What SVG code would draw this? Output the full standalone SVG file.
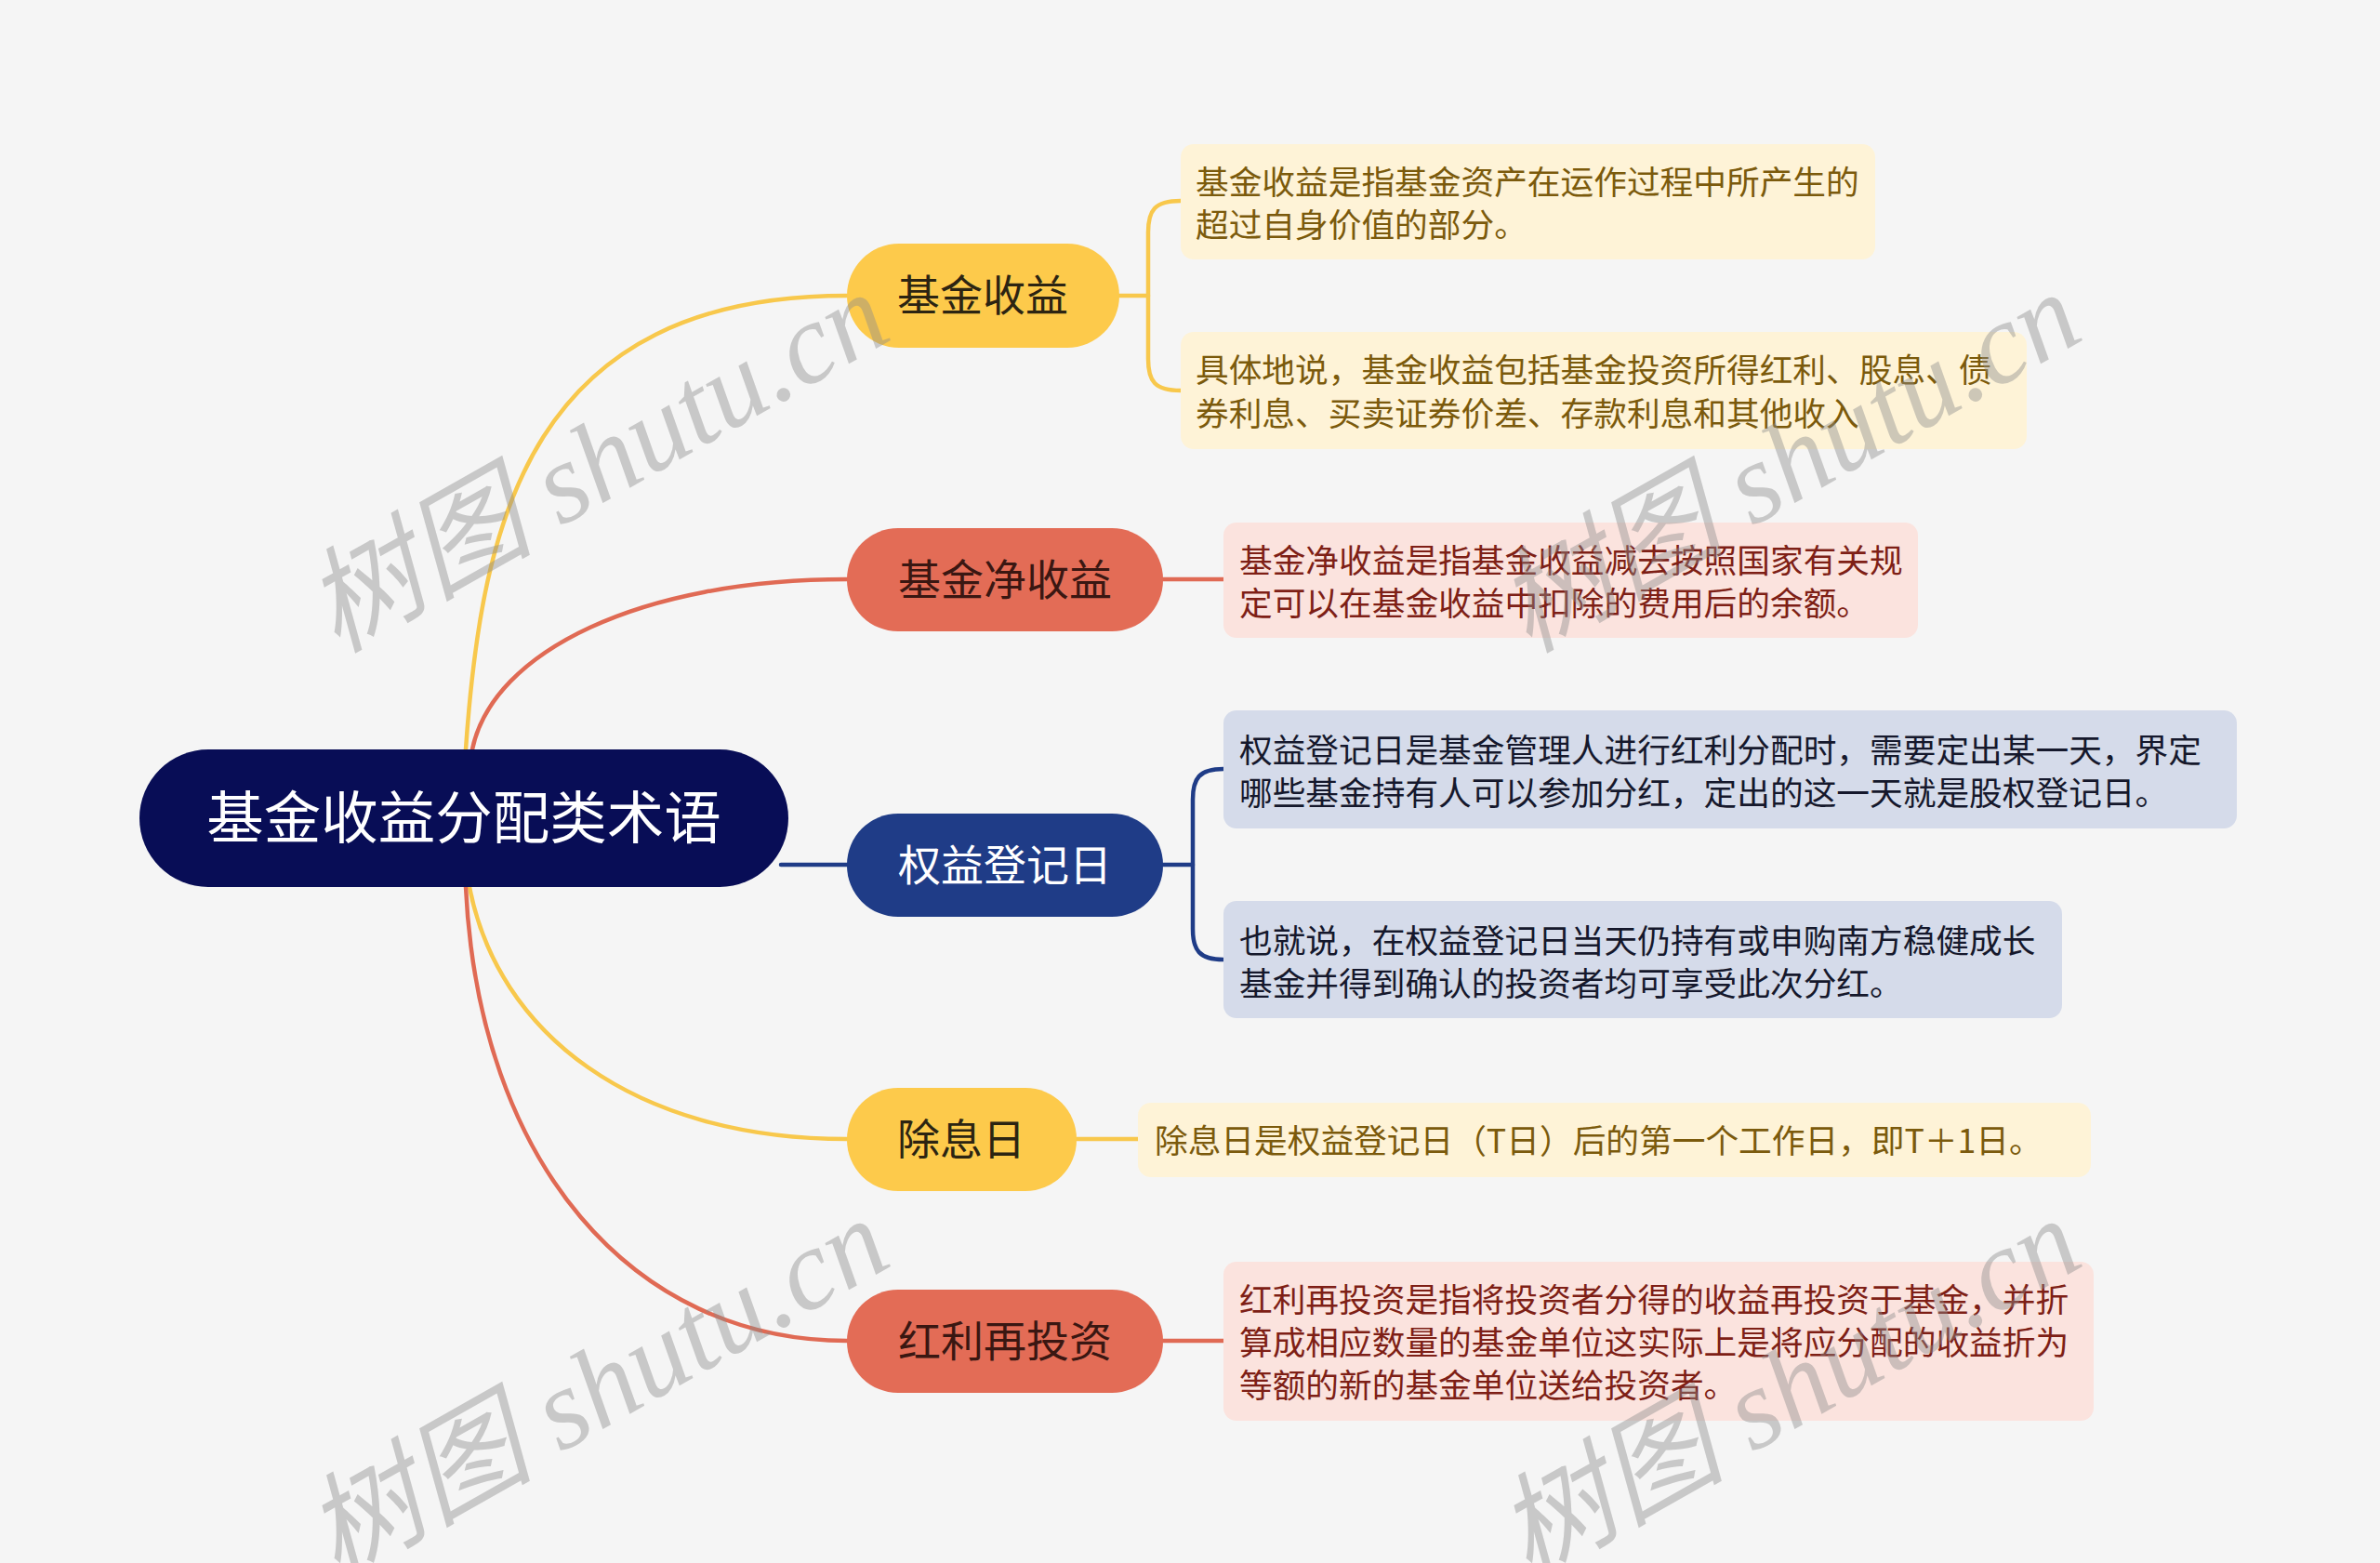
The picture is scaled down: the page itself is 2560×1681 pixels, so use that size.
<svg xmlns="http://www.w3.org/2000/svg" width="2560" height="1681" viewBox="0 0 2560 1681">
<style>
text{font-family:"Noto Sans CJK SC","Noto Sans",sans-serif}
.c{fill:none;stroke-width:4.5;stroke-linecap:round}
.y{stroke:#f8c84c}.r{stroke:#e06a54}.b{stroke:#1f3c87}
.rootT{font-size:61.5px;fill:#ffffff;text-anchor:middle}
.nT{font-size:46px;text-anchor:middle}
.lT{font-size:35.7px}
.ly{fill:#fef3d7}.lr{fill:#fbe3de}.lb{fill:#d5dbea}
.ty{fill:#7b5a0c}.tr{fill:#7e1f16}.tb{fill:#15182c}
.wm{font-family:"Liberation Serif","Noto Sans CJK SC",serif;font-style:italic;font-size:123px;fill:#8c8c8c;opacity:0.42}
</style>
<rect width="2560" height="1681" fill="#f5f5f5"/>
<g id="connectors">
<path class="c y" d="M501 806 C518 560 570 318 911 318"/>
<path class="c r" d="M508 806 C530 700 690 623 911 623"/>
<path class="c b" d="M840 930 H911"/>
<path class="c y" d="M505 954 C535 1110 680 1225 911 1225"/>
<path class="c r" d="M501 954 C515 1250 680 1442 911 1442"/>
<path class="c y" d="M1204 318 H1235"/>
<path class="c y" d="M1270 216 C1242 216 1235 226 1235 250 V386 C1235 410 1242 420 1270 420"/>
<path class="c r" d="M1251 623 H1316"/>
<path class="c b" d="M1251 930 H1283"/>
<path class="c b" d="M1316 827 C1290 827 1283 837 1283 860 V999 C1283 1022 1290 1032 1316 1032"/>
<path class="c y" d="M1158 1225 H1224"/>
<path class="c r" d="M1251 1442 H1316"/>
</g>
<g id="root">
<rect x="150" y="806" width="698" height="148" rx="74" fill="#080d56"/>
<text class="rootT" x="499" y="902">基金收益分配类术语</text>
</g>
<g id="n1">
<rect x="911" y="262" width="293" height="112" rx="56" fill="#fdca4b"/>
<text class="nT" x="1057" y="334" fill="#2c2412">基金收益</text>
</g>
<g id="n2">
<rect x="911" y="568" width="340" height="111" rx="55" fill="#e36c56"/>
<text class="nT" x="1081" y="640" fill="#3a1712">基金净收益</text>
</g>
<g id="n3">
<rect x="911" y="875" width="340" height="111" rx="55" fill="#1f3c87"/>
<text class="nT" x="1081" y="947" fill="#ffffff">权益登记日</text>
</g>
<g id="n4">
<rect x="911" y="1170" width="247" height="111" rx="55" fill="#fdca4b"/>
<text class="nT" x="1034" y="1242" fill="#2c2412">除息日</text>
</g>
<g id="n5">
<rect x="911" y="1387" width="340" height="111" rx="55" fill="#e36c56"/>
<text class="nT" x="1081" y="1459" fill="#3a1712">红利再投资</text>
</g>
<g id="l1">
<rect class="ly" x="1270" y="155" width="747" height="124" rx="14"/>
<text class="lT ty" x="1286" y="209">基金收益是指基金资产在运作过程中所产生的</text>
<text class="lT ty" x="1286" y="255">超过自身价值的部分。</text>
</g>
<g id="l2">
<rect class="ly" x="1270" y="357" width="910" height="126" rx="14"/>
<text class="lT ty" x="1286" y="411">具体地说，基金收益包括基金投资所得红利、股息、债</text>
<text class="lT ty" x="1286" y="458">券利息、买卖证券价差、存款利息和其他收入</text>
</g>
<g id="l3">
<rect class="lr" x="1316" y="562" width="747" height="124" rx="14"/>
<text class="lT tr" x="1333" y="616">基金净收益是指基金收益减去按照国家有关规</text>
<text class="lT tr" x="1333" y="662">定可以在基金收益中扣除的费用后的余额。</text>
</g>
<g id="l4">
<rect class="lb" x="1316" y="764" width="1090" height="127" rx="14"/>
<text class="lT tb" x="1333" y="820">权益登记日是基金管理人进行红利分配时，需要定出某一天，界定</text>
<text class="lT tb" x="1333" y="866">哪些基金持有人可以参加分红，定出的这一天就是股权登记日。</text>
</g>
<g id="l5">
<rect class="lb" x="1316" y="969" width="902" height="126" rx="14"/>
<text class="lT tb" x="1333" y="1025">也就说，在权益登记日当天仍持有或申购南方稳健成长</text>
<text class="lT tb" x="1333" y="1071">基金并得到确认的投资者均可享受此次分红。</text>
</g>
<g id="l6">
<rect class="ly" x="1224" y="1186" width="1025" height="80" rx="14"/>
<text class="lT ty" x="1242" y="1240">除息日是权益登记日（T日）后的第一个工作日，即T＋1日。</text>
</g>
<g id="l7">
<rect class="lr" x="1316" y="1357" width="936" height="171" rx="14"/>
<text class="lT tr" x="1333" y="1411">红利再投资是指将投资者分得的收益再投资于基金，并折</text>
<text class="lT tr" x="1333" y="1457">算成相应数量的基金单位这实际上是将应分配的收益折为</text>
<text class="lT tr" x="1333" y="1503">等额的新的基金单位送给投资者。</text>
</g>
<g id="watermarks">
<text class="wm" transform="translate(362 703) rotate(-29.5)">树图 shutu.cn</text>
<text class="wm" transform="translate(1644 703) rotate(-29.5)">树图 shutu.cn</text>
<text class="wm" transform="translate(362 1699) rotate(-29.5)">树图 shutu.cn</text>
<text class="wm" transform="translate(1644 1699) rotate(-29.5)">树图 shutu.cn</text>
</g>
</svg>
